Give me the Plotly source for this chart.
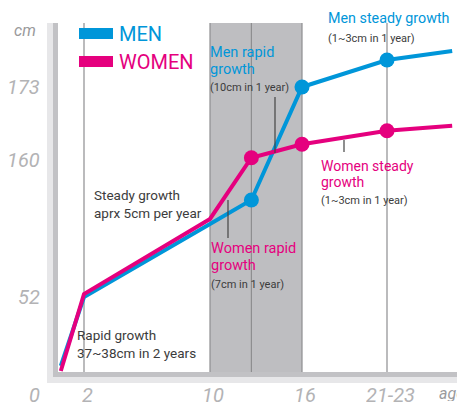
import numpy as np
import plotly.graph_objects as go

# ---- scale anchors (schematic, non-linear axes) ----
age_ticks = [0, 2, 10, 16, 22, 28]
age_pos = [55, 84, 210, 302, 387, 472]
height_ticks = [0, 52, 160, 173, 186]
height_pos = [372, 297, 160, 87, 14]

x_tick_labels = ["2", "10", "16", "21-23"]
x_tick_ages = [2, 10, 16, 22]
y_tick_labels = ["52", "160", "173"]
y_tick_heights = [52, 160, 173]

# ---- data ----
ages = [0.4, 2, 10, 12.7, 16, 22, 26.6]
men_height = [4.2, 52, 109.5, 128.5, 173, 177.8, 179.4]
women_height = [0.7, 54.4, 113.5, 160.4, 162.8, 165.2, 166.1]
marker_ages = [12.7, 16, 22]
men_marker_h = [128.5, 173, 177.8]
women_marker_h = [160.4, 162.8, 165.2]
grid_ages = [2, 10, 12.7, 16, 22]

BLUE = "#0096d9"
PINK = "#e5007e"
TXT = "#3c3c3c"
TICK = "#b3b3b5"
FONT = "Roboto, sans-serif"
OFF = 8  # page body offset


def X(a):
    return np.interp(np.asarray(a, float), age_ticks, age_pos)


def Y(h):
    return np.interp(np.asarray(h, float), height_ticks, height_pos)


fig = go.Figure()

TOP, BASE = 23, 372
shapes = []
shapes.append(dict(type="rect", x0=float(X(10)), x1=float(X(16)), y0=TOP, y1=BASE,
                   fillcolor="#bebec1", line=dict(width=0), layer="below"))
for a in grid_ages:
    xv = float(X(a))
    shapes.append(dict(type="line", x0=xv, x1=xv, y0=TOP, y1=BASE,
                       line=dict(color="#8e8e90", width=1.2), layer="below"))
shapes += [
    dict(type="rect", x0=47, x1=53, y0=TOP, y1=383, fillcolor="#e7e7e9", line=dict(width=0), layer="below"),
    dict(type="rect", x0=47, x1=475, y0=377, y1=383, fillcolor="#e7e7e9", line=dict(width=0), layer="below"),
    dict(type="rect", x0=53, x1=58, y0=TOP, y1=377, fillcolor="#c2c2c5", line=dict(width=0), layer="below"),
    dict(type="rect", x0=53, x1=475, y0=372, y1=377, fillcolor="#c2c2c5", line=dict(width=0), layer="below"),
]
shapes += [
    dict(type="rect", x0=79, x1=113, y0=28, y1=39, fillcolor=BLUE, line=dict(width=0)),
    dict(type="rect", x0=79, x1=113, y0=56, y1=67, fillcolor=PINK, line=dict(width=0)),
]
for (x, y0, y1) in [(275, 97, 153), (228, 200, 238), (344, 140, 152)]:
    shapes.append(dict(type="line", x0=x, x1=x, y0=y0, y1=y1, line=dict(color="#444", width=1.2)))

fig.add_trace(go.Scatter(x=X(ages), y=Y(men_height), mode="lines",
                         line=dict(color=BLUE, width=4), hoverinfo="skip", showlegend=False))
fig.add_trace(go.Scatter(x=X(ages), y=Y(women_height), mode="lines",
                         line=dict(color=PINK, width=4), hoverinfo="skip", showlegend=False))
fig.add_trace(go.Scatter(x=X(marker_ages), y=Y(men_marker_h), mode="markers",
                         marker=dict(color=BLUE, size=15), hoverinfo="skip", showlegend=False))
fig.add_trace(go.Scatter(x=X(marker_ages), y=Y(women_marker_h), mode="markers",
                         marker=dict(color=PINK, size=15), hoverinfo="skip", showlegend=False))

ann = []


def text(x, y, t, size, color, xanchor="left", italic=False, height=None):
    d = dict(x=x, y=y, text=t, showarrow=False, xanchor=xanchor, yanchor="middle",
             xshift=-2 if xanchor == "left" else 0,
             font=dict(family=FONT, size=size, color=color,
                       style="italic" if italic else "normal"))
    if height:
        d["height"] = height
        d["borderpad"] = 0
    ann.append(d)


for lab, a in zip(x_tick_labels, x_tick_ages):
    text(float(X(a)) + 3, 394, lab, 20, TICK, "center", True, height=17)
text(34, 394, "0", 20, TICK, "center", True, height=17)
text(440, 393, "age", 16, "#9a9a9c", "left", True, height=16)
for lab, h in zip(y_tick_labels, y_tick_heights):
    text(42, float(Y(h)), lab, 20, TICK, "right", True)
text(38, 30, "cm", 16, "#9a9a9c", "right", True)

text(119, 34, "MEN", 20, BLUE)
text(119, 62, "WOMEN", 20, PINK)

text(210, 52, "Men rapid", 14.5, BLUE)
text(210, 69, "growth", 14.5, BLUE)
text(210, 87, "(10cm in 1 year)", 11, TXT)
text(328, 18, "Men steady growth", 14.3, BLUE)
text(328, 38, "(1~3cm in 1 year)", 11, TXT)
text(94, 195, "Steady growth", 13.5, TXT)
text(94, 213, "aprx 5cm per year", 13.5, TXT)
text(211, 248, "Women rapid", 14.5, PINK)
text(211, 265, "growth", 14.5, PINK)
text(211, 284, "(7cm in 1 year)", 11, TXT)
text(321, 166, "Women steady", 14, PINK)
text(321, 182, "growth", 14, PINK)
text(321, 200, "(1~3cm in 1 year)", 11, TXT)
text(77, 335, "Rapid growth", 13.5, TXT)
text(77, 353, "37~38cm in 2 years", 13.5, TXT)

fig.update_layout(
    width=465, height=403,
    margin=dict(l=0, r=0, t=0, b=0),
    paper_bgcolor="white", plot_bgcolor="white",
    xaxis=dict(range=[OFF, 465 + OFF], visible=False, fixedrange=True),
    yaxis=dict(range=[403 + OFF, OFF], visible=False, fixedrange=True),
    shapes=shapes, annotations=ann,
    showlegend=False,
)
fig.write_html("out.html")
